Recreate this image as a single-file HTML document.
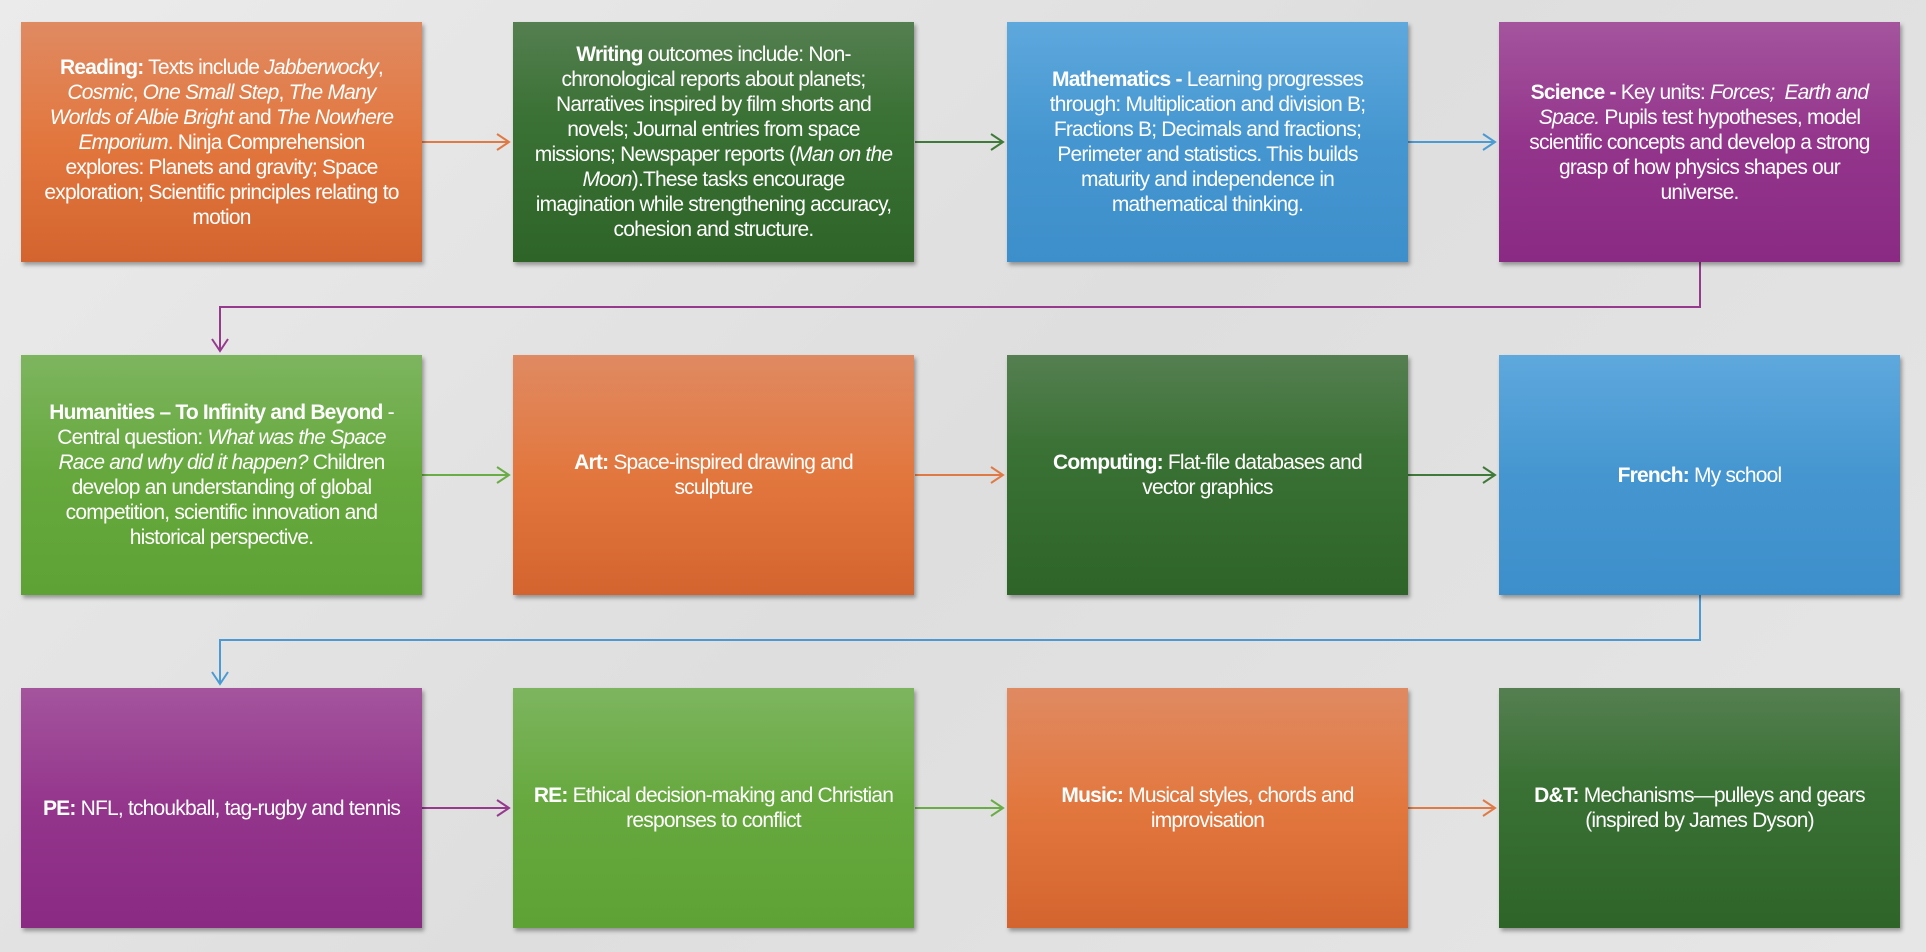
<!DOCTYPE html>
<html><head><meta charset="utf-8"><style>
body{margin:0;width:1926px;height:952px;overflow:hidden;background:linear-gradient(135deg,#ebebeb,#dedede 50%,#e6e6e6);font-family:"Liberation Sans",sans-serif;position:relative}
.b{position:absolute;width:401px;height:240px;box-sizing:border-box;padding:0 20px;display:flex;align-items:center;justify-content:center;text-align:center;color:#fff;font-size:21px;line-height:25px;letter-spacing:-0.8px;box-shadow:2px 3px 4px rgba(0,0,0,.35)}
.o{background:linear-gradient(#e08a62,#e2773e 50%,#d4642f)}
.g{background:linear-gradient(#557f51,#3a7134 40%,#2e6428)}
.bl{background:linear-gradient(#5ea8dd,#4596d0 50%,#3d8fcb)}
.p{background:linear-gradient(#a4549d,#94358c 50%,#8a2a83)}
.lg{background:linear-gradient(#7db55f,#66a83d 50%,#5ea235)}
.c1{left:21px}.c2{left:513px}.c3{left:1007px}.c4{left:1499px}
.r1{top:22px}.r2{top:355px}.r3{top:688px}
svg{position:absolute;left:0;top:0}
</style></head><body>
<svg width="1926" height="952" fill="none" stroke-width="2">
<g stroke="#e07a45"><path d="M421 142H509M497 134l12 8-12 8"/><path d="M915 475H1003M991 467l12 8-12 8"/><path d="M1407 808H1495M1483 800l12 8-12 8"/></g>
<g stroke="#3f7a3a"><path d="M915 142H1003M991 134l12 8-12 8"/><path d="M1407 475H1495M1483 467l12 8-12 8"/></g>
<g stroke="#4a9ad3"><path d="M1407 142H1495M1483 134l12 8-12 8"/><path d="M1700 594V640H220V684M212 672l8 12 8-12"/></g>
<g stroke="#963a8e"><path d="M1700 262V307H220V351M212 339l8 12 8-12"/><path d="M421 808H509M497 800l12 8-12 8"/></g>
<g stroke="#6aac45"><path d="M421 475H509M497 467l12 8-12 8"/><path d="M915 808H1003M991 800l12 8-12 8"/></g>
</svg>
<div class="b o c1 r1"><div><b>Reading:</b> Texts include <i>Jabberwocky</i>, <i>Cosmic</i>, <i>One Small Step</i>, <i>The Many Worlds of Albie Bright</i> and <i>The Nowhere Emporium</i>. Ninja Comprehension explores: Planets and gravity; Space exploration; Scientific principles relating to motion</div></div>
<div class="b g c2 r1"><div><b>Writing</b> outcomes include: Non-chronological reports about planets; Narratives inspired by film shorts and novels; Journal entries from space missions; Newspaper reports (<i>Man on the Moon</i>).These tasks encourage imagination while strengthening accuracy, cohesion and structure.</div></div>
<div class="b bl c3 r1"><div><b>Mathematics -</b> Learning progresses through: Multiplication and division B; Fractions B; Decimals and fractions; Perimeter and statistics. This builds maturity and independence in mathematical thinking.</div></div>
<div class="b p c4 r1"><div><b>Science - </b>Key units: <i>Forces; &nbsp;Earth and Space.</i> Pupils test hypotheses, model scientific concepts and develop a strong grasp of how physics shapes our universe.</div></div>
<div class="b lg c1 r2"><div><b>Humanities – To Infinity and Beyond</b> - Central question: <i>What was the Space Race and why did it happen?</i> Children develop an understanding of global competition, scientific innovation and historical perspective.</div></div>
<div class="b o c2 r2"><div><b>Art:</b> Space-inspired drawing and sculpture</div></div>
<div class="b g c3 r2"><div><b>Computing:</b> Flat-file databases and vector graphics</div></div>
<div class="b bl c4 r2"><div><b>French:</b> My school</div></div>
<div class="b p c1 r3"><div><b>PE:</b> NFL, tchoukball, tag-rugby and tennis</div></div>
<div class="b lg c2 r3"><div><b>RE:</b> Ethical decision-making and Christian responses to conflict</div></div>
<div class="b o c3 r3"><div><b>Music:</b> Musical styles, chords and improvisation</div></div>
<div class="b g c4 r3"><div><b>D&amp;T:</b> Mechanisms—pulleys and gears (inspired by James Dyson)</div></div>
</body></html>
